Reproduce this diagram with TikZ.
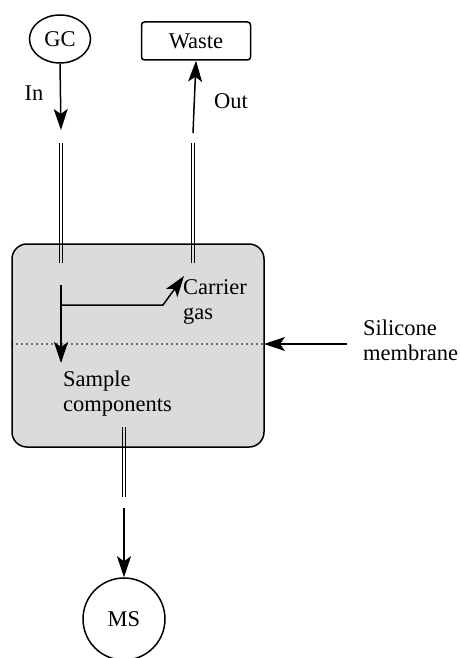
\documentclass[tikz,border=0pt]{standalone}
\usepackage{fontspec}
\setmainfont{Liberation Serif}
\usetikzlibrary{arrows.meta,shapes.geometric}
\begin{document}
\begin{tikzpicture}[x=1pt,y=-1pt,
  every node/.style={font=\fontsize{22.5}{25}\selectfont},
  ln/.style={line width=1.5pt},
  arr/.style={ln,-{Stealth[length=21pt,width=14pt,inset=5pt]}},
  pipe/.style={line width=1.1pt},
  lbl/.style={inner sep=0pt,align=left}]
\useasboundingbox (0,0) rectangle (460,658);
% main chamber
\node[draw,ln,fill=gray!28,rounded corners=15pt,minimum width=252pt,minimum height=203pt,inner sep=0pt] (box) at (138,345.5) {};
% end nodes
\node[draw,ln,ellipse,minimum width=61pt,minimum height=48pt,inner sep=0pt] (gc) at (60,39) {GC};
\node[draw,ln,rounded corners=3pt,minimum width=109pt,minimum height=38pt,inner sep=0pt] (waste) at (196,41) {Waste};
\node[draw,ln,circle,minimum size=82pt,inner sep=0pt] (ms) at (124,619) {MS};
% coordinates
\coordinate (inTip) at (61,130);
\coordinate (inA) at (61,143);
\coordinate (inB) at (61,263);
\coordinate (outA) at (193,143);
\coordinate (outB) at (193,263);
\coordinate (outS) at (193,133);
\coordinate (msA) at (124,427);
\coordinate (msB) at (124,497);
\coordinate (msS) at (124,508);
\coordinate (v0) at (61,285);
\coordinate (v1) at (61,363);
\coordinate (h0) at (61,305);
\coordinate (h1) at (163,305);
\coordinate (h2) at (184,276);
\coordinate (mL) at (12,344);
\coordinate (mR) at (264,344);
\coordinate (mS) at (347,344);
% in / out arrows
\draw[arr] (gc.south) -- (inTip);
\draw[arr] (outS) -- (waste.south);
\draw[arr] (msS) -- (ms.north);
% double pipes
\foreach \a/\b in {inA/inB,outA/outB,msA/msB}{
  \draw[pipe] ([xshift=-1.7pt]\a) -- ([xshift=-1.7pt]\b);
  \draw[pipe] ([xshift=1.7pt]\a) -- ([xshift=1.7pt]\b);
}
% inside flows
\draw[arr] (v0) -- (v1);
\draw[arr] (h0) -- (h1) -- (h2);
% membrane
\draw[line width=1.8pt,line cap=round,dash pattern=on 0pt off 5pt] (mL) -- (mR);
\draw[arr] (mS) -- (mR);
% labels
\node (lin) at (34,93) {In};
\node (lout) at (231,101) {Out};
\node[lbl,anchor=north west] (lcar) at (183,279) {Carrier\\gas};
\node[lbl,anchor=north west] (lsil) at (363,320) {Silicone\\membrane};
\node[lbl,anchor=north west] (lsam) at (63,371) {Sample\\components};
\end{tikzpicture}
\end{document}
